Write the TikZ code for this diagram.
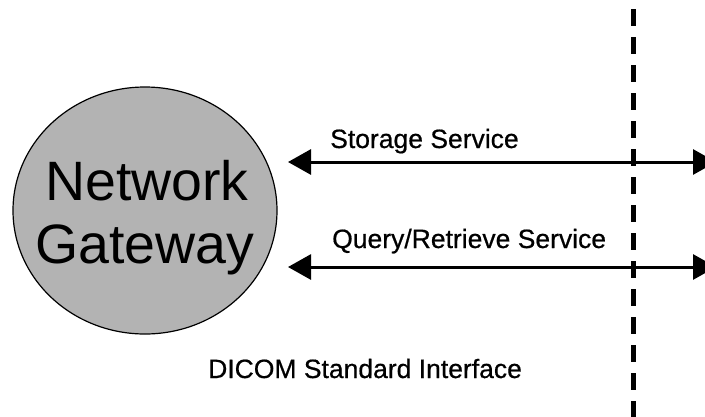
\documentclass[tikz,border=0pt]{standalone}
\usepackage{fontspec}
\setmainfont{Liberation Sans}
\newfontfamily\svcfont[FakeBold=0.6]{Liberation Sans}
\usetikzlibrary{shapes.geometric,arrows.meta}
\definecolor{gwgray}{RGB}{179,179,179}
\tikzset{
  gateway/.style={ellipse, draw, line width=1.2pt, fill=gwgray, minimum width=264pt, minimum height=247pt, inner sep=0pt},
  bigtext/.style={font=\fontsize{55.5}{63}\selectfont, inner sep=0pt, anchor=base},
  svctext/.style={font=\svcfont\fontsize{26.5}{30}\selectfont, inner sep=0pt, anchor=base west},
  service/.style={line width=3pt, {Triangle[length=23pt,width=25pt]}-{Triangle[length=23pt,width=25pt]}},
  boundary/.style={line width=4.5pt, dash pattern=on 17pt off 11pt}
}
\begin{document}
\begin{tikzpicture}[x=1pt, y=-1pt]
      \clip (0,0) rectangle (705,416);
      \node[gateway] (gw) at (145, 210.5) {};
      \node[bigtext] (net) at (147, 200) {Network};
      \node[bigtext] (gate) at (145, 263) {Gateway};

      \node[svctext] (store) at (330, 148) {Storage Service};
      \node[svctext] (query) at (332, 248) {Query/Retrieve Service};
      \node[svctext] (dicom) at (208, 378) {DICOM Standard Interface};

      \coordinate (storeL) at (288, 162);
      \coordinate (storeR) at (716, 162);
      \coordinate (queryL) at (288, 267);
      \coordinate (queryR) at (716, 267);
      \coordinate (top) at (633.3, 9.3);
      \coordinate (bottom) at (633.3, 430);

      \foreach \source/\dest in {storeL/storeR, queryL/queryR}
        \draw[service] (\source) -- (\dest);
      \draw[boundary] (top) -- (bottom);
\end{tikzpicture}
\end{document}
